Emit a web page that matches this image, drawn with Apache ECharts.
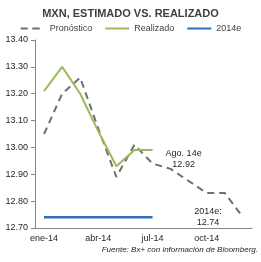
<!DOCTYPE html>
<html>
<head>
<meta charset="utf-8">
<script src="https://cdn.jsdelivr.net/npm/echarts@6/dist/echarts.min.js"></script>
<style>
  html, body { margin: 0; padding: 0; background: #fff; }
  #chart { width: 261px; height: 262px; }
</style>
</head>
<body>
<div id="chart"></div>
<script>
const months = ['ene-14', 'feb-14', 'mar-14', 'abr-14', 'may-14', 'jun-14',
  'jul-14', 'ago-14', 'sep-14', 'oct-14', 'nov-14', 'dic-14'];
const pronostico = [13.05, 13.20, 13.26, 13.07, 12.89, 13.01, 12.94, 12.92, 12.875, 12.83, 12.83, 12.74];
const realizado = [13.21, 13.30, 13.20, 13.06, 12.93, 12.99, 12.99, null, null, null, null, null];
const estimado2014 = [12.74, 12.74, 12.74, 12.74, 12.74, 12.74, 12.74, null, null, null, null, null];

const font = 'Liberation Sans, Arial, sans-serif';

const chart = echarts.init(document.getElementById('chart'));
chart.setOption({
  animation: false,
  title: {
    text: 'MXN, ESTIMADO VS. REALIZADO',
    left: 'center',
    top: 3,
    textStyle: { fontFamily: font, fontSize: 11, fontWeight: 'bold', color: '#404040' }
  },
  legend: {
    top: 19,
    left: 'center',
    itemWidth: 24,
    itemHeight: 2,
    itemGap: 12,
    textStyle: { fontFamily: font, fontSize: 9, color: '#404040' },
    data: ['Pronóstico', 'Realizado', '2014e']
  },
  grid: { left: 35, right: 9, top: 40, bottom: 34 },
  xAxis: {
    type: 'category',
    data: months,
    boundaryGap: true,
    axisLine: { lineStyle: { color: '#868686' } },
    axisTick: { interval: 2, length: 4, lineStyle: { color: '#868686' } },
    axisLabel: { interval: 2, fontFamily: font, fontSize: 9, color: '#262626', margin: 6 }
  },
  yAxis: {
    type: 'value',
    min: 12.7,
    max: 13.4,
    interval: 0.1,
    axisLine: { show: true, lineStyle: { color: '#868686' } },
    axisTick: { show: true, length: 4, lineStyle: { color: '#868686' } },
    splitLine: { show: false },
    axisLabel: {
      fontFamily: font, fontSize: 9, color: '#262626', margin: 7,
      formatter: v => v.toFixed(2)
    }
  },
  series: [
    {
      name: 'Pronóstico',
      type: 'line',
      data: pronostico,
      symbol: 'none',
      lineStyle: { color: '#6f6f6f', width: 2, type: [7, 5] },
      itemStyle: { color: '#6f6f6f' },
      markPoint: {
        symbol: 'circle',
        symbolSize: 0,
        label: { fontFamily: font, fontSize: 9, color: '#262626', lineHeight: 11 },
        data: [
          { coord: [7, 12.92], label: { formatter: 'Ago. 14e\n12.92', offset: [13, -10] } },
          { coord: [11, 12.74], label: { formatter: '2014e:\n12.74', offset: [-35, 0] } }
        ]
      }
    },
    {
      name: 'Realizado',
      type: 'line',
      data: realizado,
      symbol: 'none',
      lineStyle: { color: '#9bbb59', width: 2 },
      itemStyle: { color: '#9bbb59' }
    },
    {
      name: '2014e',
      type: 'line',
      data: estimado2014,
      symbol: 'none',
      lineStyle: { color: '#2f6fb9', width: 2.5 },
      itemStyle: { color: '#2f6fb9' }
    }
  ],
  graphic: [
    {
      type: 'text',
      right: 3,
      top: 246,
      style: {
        text: 'Fuente: Bx+ con información de Bloomberg.',
        font: 'italic 8px Liberation Sans, Arial, sans-serif',
        fill: '#262626'
      }
    }
  ]
});
</script>
</body>
</html>
